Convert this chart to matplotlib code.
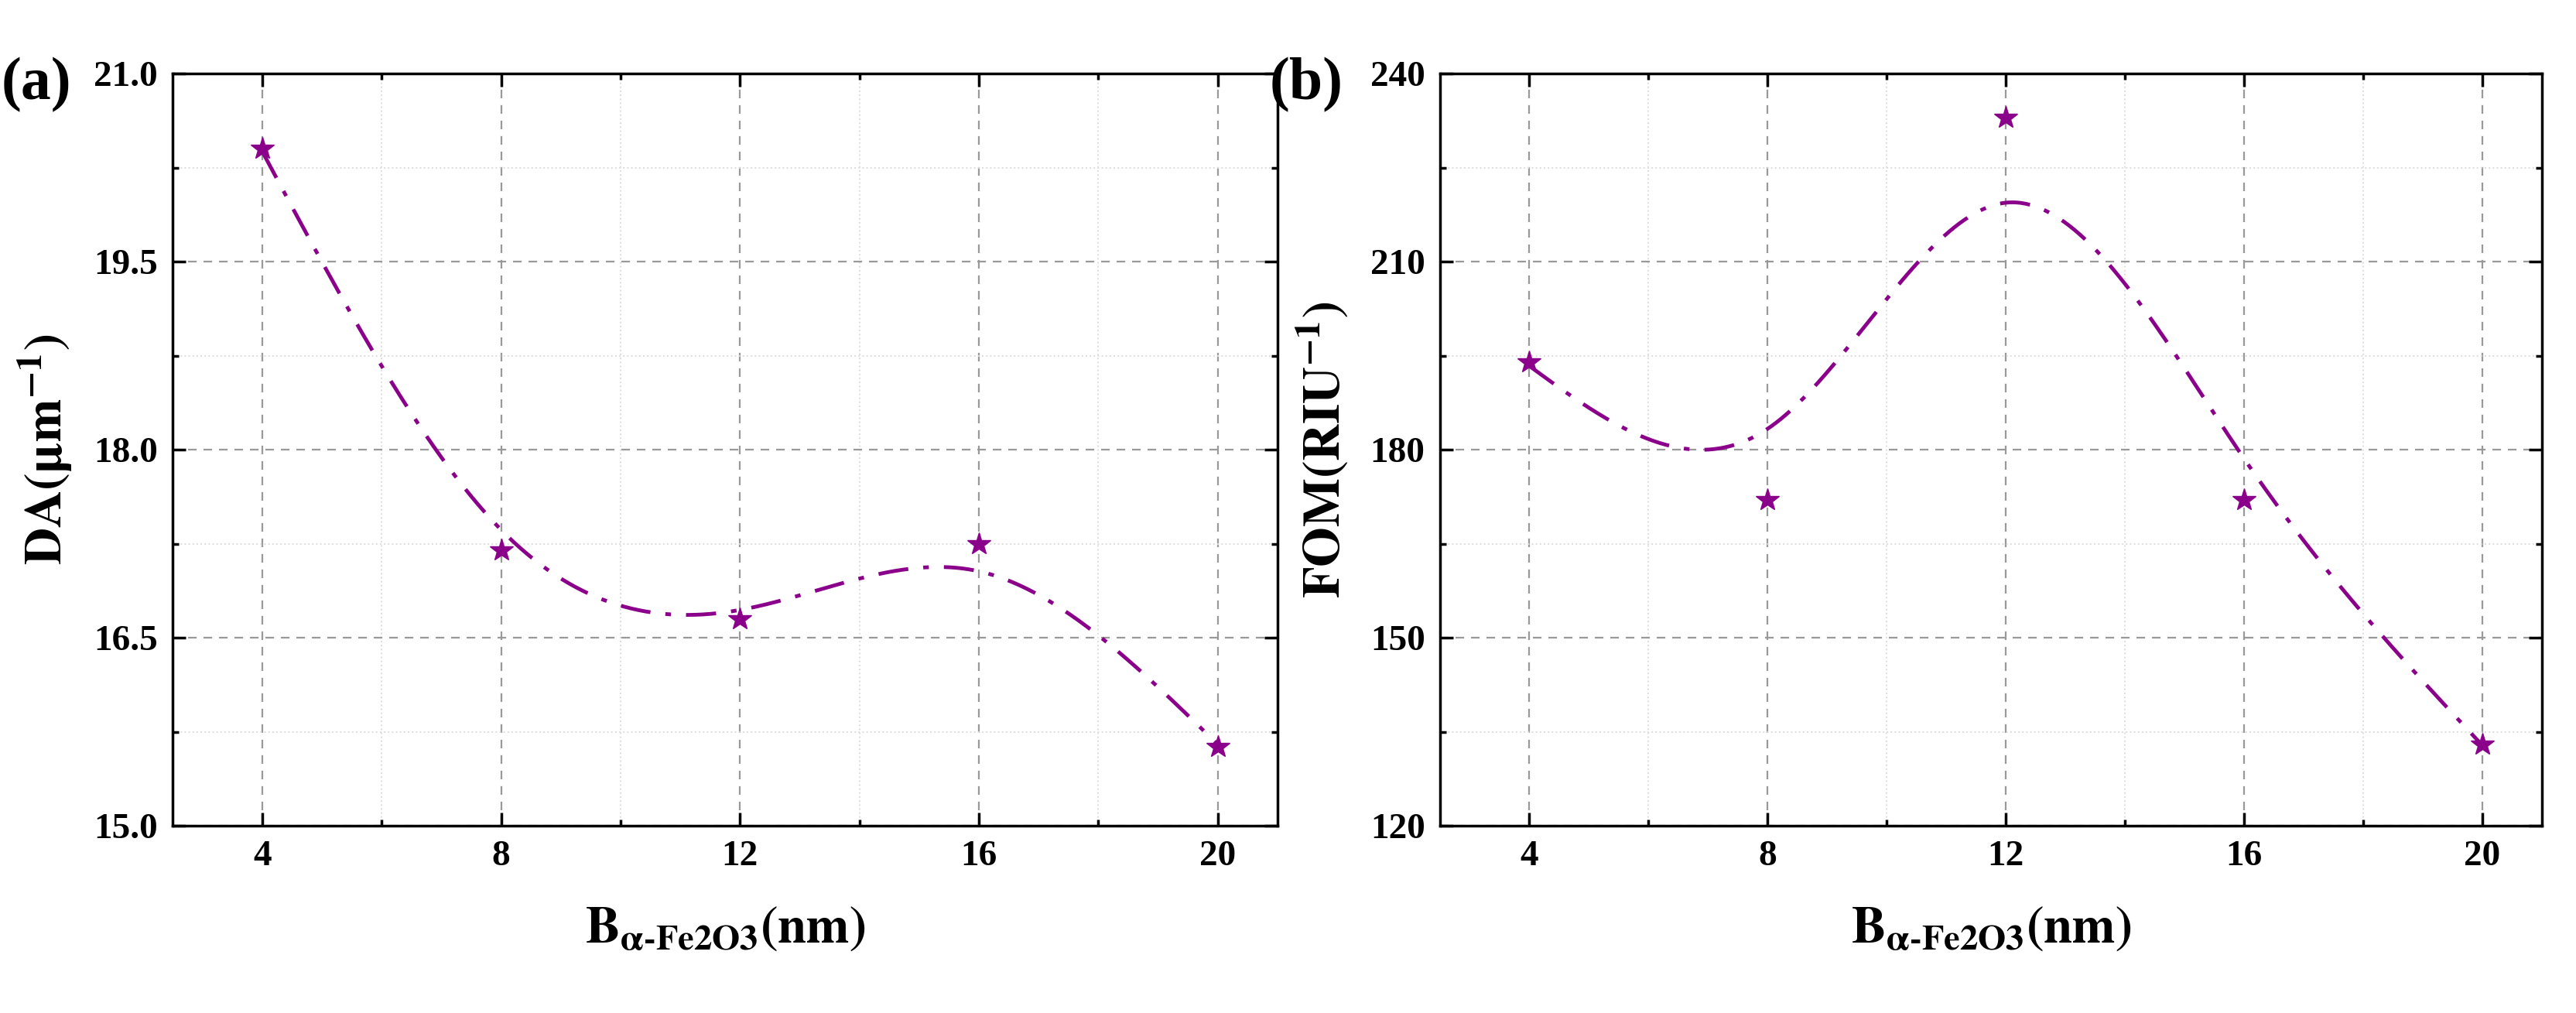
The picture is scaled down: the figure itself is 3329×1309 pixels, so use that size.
import numpy as np
import matplotlib
matplotlib.use("Agg")
import matplotlib.pyplot as plt
from matplotlib.ticker import MultipleLocator, FormatStrFormatter

x = [4, 8, 12, 16, 20]
da = [20.4, 17.2, 16.65, 17.25, 15.63]
fom = [194, 172, 233, 172, 133]

plt.rcParams['font.family'] = ['Liberation Serif', 'DejaVu Serif']
plt.rcParams['font.weight'] = 'bold'
plt.rcParams['mathtext.fontset'] = 'stix'
col = '#8B008B'


def smooth_spline(xs, ys, lam, w):
    n = len(xs); h = np.diff(xs)
    Q = np.zeros((n, n - 2)); R = np.zeros((n - 2, n - 2))
    for j in range(1, n - 1):
        Q[j - 1, j - 1] = 1 / h[j - 1]
        Q[j, j - 1] = -1 / h[j - 1] - 1 / h[j]
        Q[j + 1, j - 1] = 1 / h[j]
        R[j - 1, j - 1] = (h[j - 1] + h[j]) / 3
        if j < n - 2:
            R[j - 1, j] = R[j, j - 1] = h[j] / 6
    K = Q @ np.linalg.solve(R, Q.T)
    W = np.diag(w)
    g = np.linalg.solve(W + lam * K, W @ ys)
    gam = np.linalg.solve(R, Q.T @ g)
    M = np.concatenate([[0], gam, [0]])
    xx = np.linspace(xs[0], xs[-1], 400)
    yy = np.empty_like(xx)
    for k, t in enumerate(xx):
        i = min(np.searchsorted(xs, t, side='right') - 1, n - 2)
        hi = h[i]; a = (xs[i + 1] - t) / hi; b = (t - xs[i]) / hi
        yy[k] = a * g[i] + b * g[i + 1] + ((a**3 - a) * M[i] + (b**3 - b) * M[i + 1]) * hi**2 / 6
    return xx, yy


fig = plt.figure(figsize=(33.29, 13.09), dpi=100)
ax1 = fig.add_axes([223/3329, 1-1067/1309, (1651-223)/3329, (1067-95)/1309])
ax2 = fig.add_axes([1861/3329, 1-1067/1309, (3285-1861)/3329, (1067-95)/1309])


def draw(ax, y, ylim, ystep, ylabel, tag):
    xs = np.array(x, float); ys = np.array(y, float)
    xx, yy = smooth_spline(xs, ys, 2.0, np.array([5, 1, 1, 1, 5], float))
    ax.plot(xx, yy, color=col, lw=3.5, ls=(0, (8, 4, 1.5, 4)))
    ax.plot(xs, ys, ls='none', marker='*', ms=22, color=col)
    ax.set_xlim(2.5, 21)
    ax.set_ylim(*ylim)
    ax.xaxis.set_major_locator(MultipleLocator(4))
    ax.xaxis.set_minor_locator(MultipleLocator(2))
    ax.yaxis.set_major_locator(MultipleLocator(ystep))
    ax.yaxis.set_minor_locator(MultipleLocator(ystep/2))
    ax.grid(which='major', ls=(0, (5, 4)), color='#999999', lw=1.6)
    ax.grid(which='minor', ls=':', color='#dddddd', lw=1.4)
    ax.tick_params(which='both', direction='in', top=True, right=True, width=2.5, labelsize=34)
    ax.tick_params(which='major', length=12, pad=14)
    ax.tick_params(which='minor', length=6)
    for s in ax.spines.values():
        s.set_linewidth(2.5)
    ax.set_xlabel(r'$\mathbf{B}_{\mathbf{\alpha}\text{-}\mathbf{Fe2O3}}\mathbf{(nm)}$', fontsize=48, labelpad=30)
    ax.set_ylabel(ylabel, fontsize=48, labelpad=18)
    ax.text(-0.155, 0.985, tag, transform=ax.transAxes, fontsize=56, fontweight='bold', ha='left', va='center')


draw(ax1, da, (15.0, 21.0), 1.5, r'$\mathbf{DA(\mu m^{-1})}$', '(a)')
draw(ax2, fom, (120, 240), 30, r'$\mathbf{FOM(RIU^{-1})}$', '(b)')
ax1.yaxis.set_major_formatter(FormatStrFormatter('%.1f'))
for ax in (ax1, ax2):
    for t in ax.get_xticklabels() + ax.get_yticklabels():
        t.set_fontweight('bold')

fig.savefig('out.png', dpi=100)
